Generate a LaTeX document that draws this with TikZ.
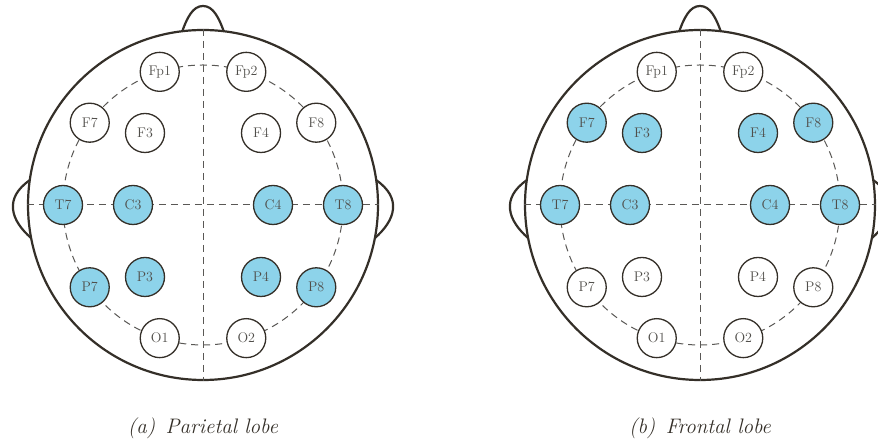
\documentclass[tikz,border=0pt]{standalone}
\usepackage{tikz}
\definecolor{eegblue}{RGB}{141,211,234}
\definecolor{headline}{RGB}{52,47,40}
\definecolor{labelgray}{RGB}{80,78,74}
\definecolor{dashgray}{RGB}{90,88,85}
\tikzset{
  headcircle/.style={circle, draw=headline, line width=2.2pt, fill=white, minimum size=350pt, inner sep=0pt},
  headpart/.style={draw=headline, line width=2.2pt, fill=white},
  guide/.style={draw=dashgray, line width=1pt, dash pattern=on 7pt off 5pt},
  electrode/.style={circle, draw=headline, line width=1.3pt, minimum size=39pt, inner sep=0pt,
    text=labelgray, font=\fontsize{14}{16}\selectfont},
  litnode/.style={fill=eegblue},
  dimnode/.style={fill=white},
  caption/.style={text=headline, font=\fontsize{21}{24}\selectfont\itshape}
}
% one head: #1 name prefix, #2 centre x, #3 frontal style, #4 central style, #5 parietal style, #6 caption
\newcommand{\eeghead}[6]{%
  \begin{scope}[shift={(#2,238)}]
    % nose and ears sit behind the head outline
    \path[headpart] (-22,170) .. controls (-16,188) and (-10,199) .. (0,199)
      .. controls (10,199) and (16,188) .. (22,170);
    \path[headpart] (-173,25) .. controls (-186,16) and (-191,6) .. (-190,-4)
      .. controls (-189,-15) and (-181,-25) .. (-172,-33);
    \path[headpart] (173,25) .. controls (186,16) and (191,6) .. (190,-4)
      .. controls (189,-15) and (181,-25) .. (172,-33);
    \node[headcircle] (#1head) at (0,0) {};
    % midline guides and the outer electrode ring
    \draw[guide] (#1head.north) -- (#1head.south);
    \draw[guide] (#1head.west) -- (#1head.east);
    \draw[guide] (0,0) circle[radius=140pt];
    % outer ring electrodes
    \node[electrode,dimnode] (#1Fp1) at (108:140pt) {Fp1};
    \node[electrode,dimnode] (#1Fp2) at (72:140pt) {Fp2};
    \node[electrode,#3] (#1F7) at (144:140pt) {F7};
    \node[electrode,#3] (#1F8) at (36:140pt) {F8};
    \node[electrode,#4] (#1T7) at (180:140pt) {T7};
    \node[electrode,#4] (#1T8) at (0:140pt) {T8};
    \node[electrode,#5] (#1P7) at (216:140pt) {P7};
    \node[electrode,#5] (#1P8) at (-36:140pt) {P8};
    \node[electrode,dimnode] (#1O1) at (252:140pt) {O1};
    \node[electrode,dimnode] (#1O2) at (288:140pt) {O2};
    % inner electrodes
    \node[electrode,#3] (#1F3) at (-58,72) {F3};
    \node[electrode,#3] (#1F4) at (58,72) {F4};
    \node[electrode,#4] (#1C3) at (-70,0) {C3};
    \node[electrode,#4] (#1C4) at (70,0) {C4};
    \node[electrode,#5] (#1P3) at (-58,-72) {P3};
    \node[electrode,#5] (#1P4) at (58,-72) {P4};
    \node[caption] (#1cap) at (0,-223) {#6};
  \end{scope}}
\begin{document}
\begin{tikzpicture}[x=1pt,y=1pt]
  \useasboundingbox[fill=white] (0,0) rectangle (878,443);
  \eeghead{a}{203}{dimnode}{litnode}{litnode}{(a)\enspace Parietal lobe}
  \eeghead{b}{700}{litnode}{litnode}{dimnode}{(b)\enspace Frontal lobe}
\end{tikzpicture}
\end{document}
